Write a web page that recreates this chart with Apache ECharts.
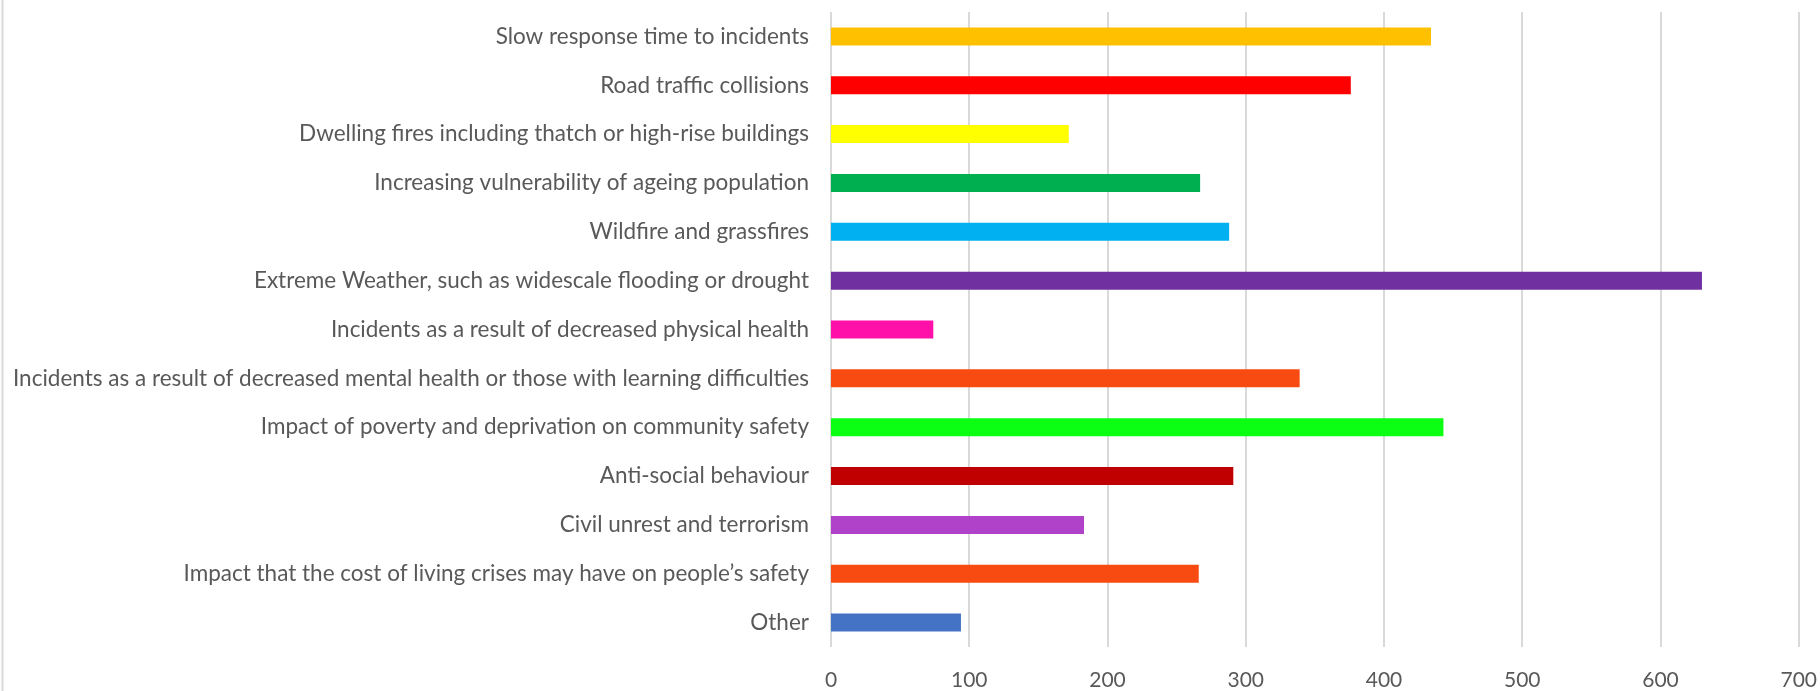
<!DOCTYPE html>
<html>
<head>
<meta charset="utf-8">
<script src="https://cdn.jsdelivr.net/npm/echarts@6/dist/echarts.min.js"></script>
<style>
html,body{margin:0;padding:0;background:#fff;}
#chart{width:1820px;height:691px;}
</style>
</head>
<body>
<div id="chart"></div>
<script>
const categories = [
  "Slow response time to incidents",
  "Road traffic collisions",
  "Dwelling fires including thatch or high-rise buildings",
  "Increasing vulnerability of ageing population",
  "Wildfire and grassfires",
  "Extreme Weather, such as widescale flooding or drought",
  "Incidents as a result of decreased physical health",
  "Incidents as a result of decreased mental health or those with learning difficulties",
  "Impact of poverty and deprivation on community safety",
  "Anti-social behaviour",
  "Civil unrest and terrorism",
  "Impact that the cost of living crises may have on people\u2019s safety",
  "Other"
];
const values = [434, 376, 172, 267, 288, 630, 74, 339, 443, 291, 183, 266, 94];
const barColors = ["#FFC000","#FF0000","#FFFF00","#00B050","#00B0F0","#7030A0","#FF10A8","#F84B12","#0AFF12","#C00000","#AF42C8","#F84B12","#4472C4"];
const xTicks = [0, 100, 200, 300, 400, 500, 600, 700];

const chart = echarts.init(document.getElementById('chart'), null, {renderer: 'canvas'});
chart.setOption({
  animation: false,
  backgroundColor: '#ffffff',
  textStyle: {fontFamily: 'Lato'},
  grid: {left: 831, right: 20, top: 12, bottom: 42, containLabel: false},
  xAxis: {
    type: 'value',
    min: xTicks[0],
    max: xTicks[xTicks.length - 1],
    interval: 100,
    axisLine: {show: false},
    axisTick: {show: false},
    splitLine: {show: true, lineStyle: {color: '#D9D9D9', width: 2}},
    axisLabel: {color: '#595959', fontSize: 21, margin: 23, fontFamily: 'Lato'}
  },
  yAxis: {
    type: 'category',
    inverse: true,
    data: categories,
    axisLine: {show: false},
    axisTick: {show: false},
    splitLine: {show: false},
    axisLabel: {color: '#595959', fontSize: 22.5, margin: 22, fontFamily: 'Lato'}
  },
  series: [{
    type: 'bar',
    data: values.map((v, i) => ({value: v, itemStyle: {color: barColors[i]}})),
    barWidth: 18
  }],
  graphic: [{
    type: 'line',
    shape: {x1: 2.5, y1: 0, x2: 2.5, y2: 691},
    style: {stroke: '#D9D9D9', lineWidth: 2}
  }]
});
</script>
</body>
</html>
